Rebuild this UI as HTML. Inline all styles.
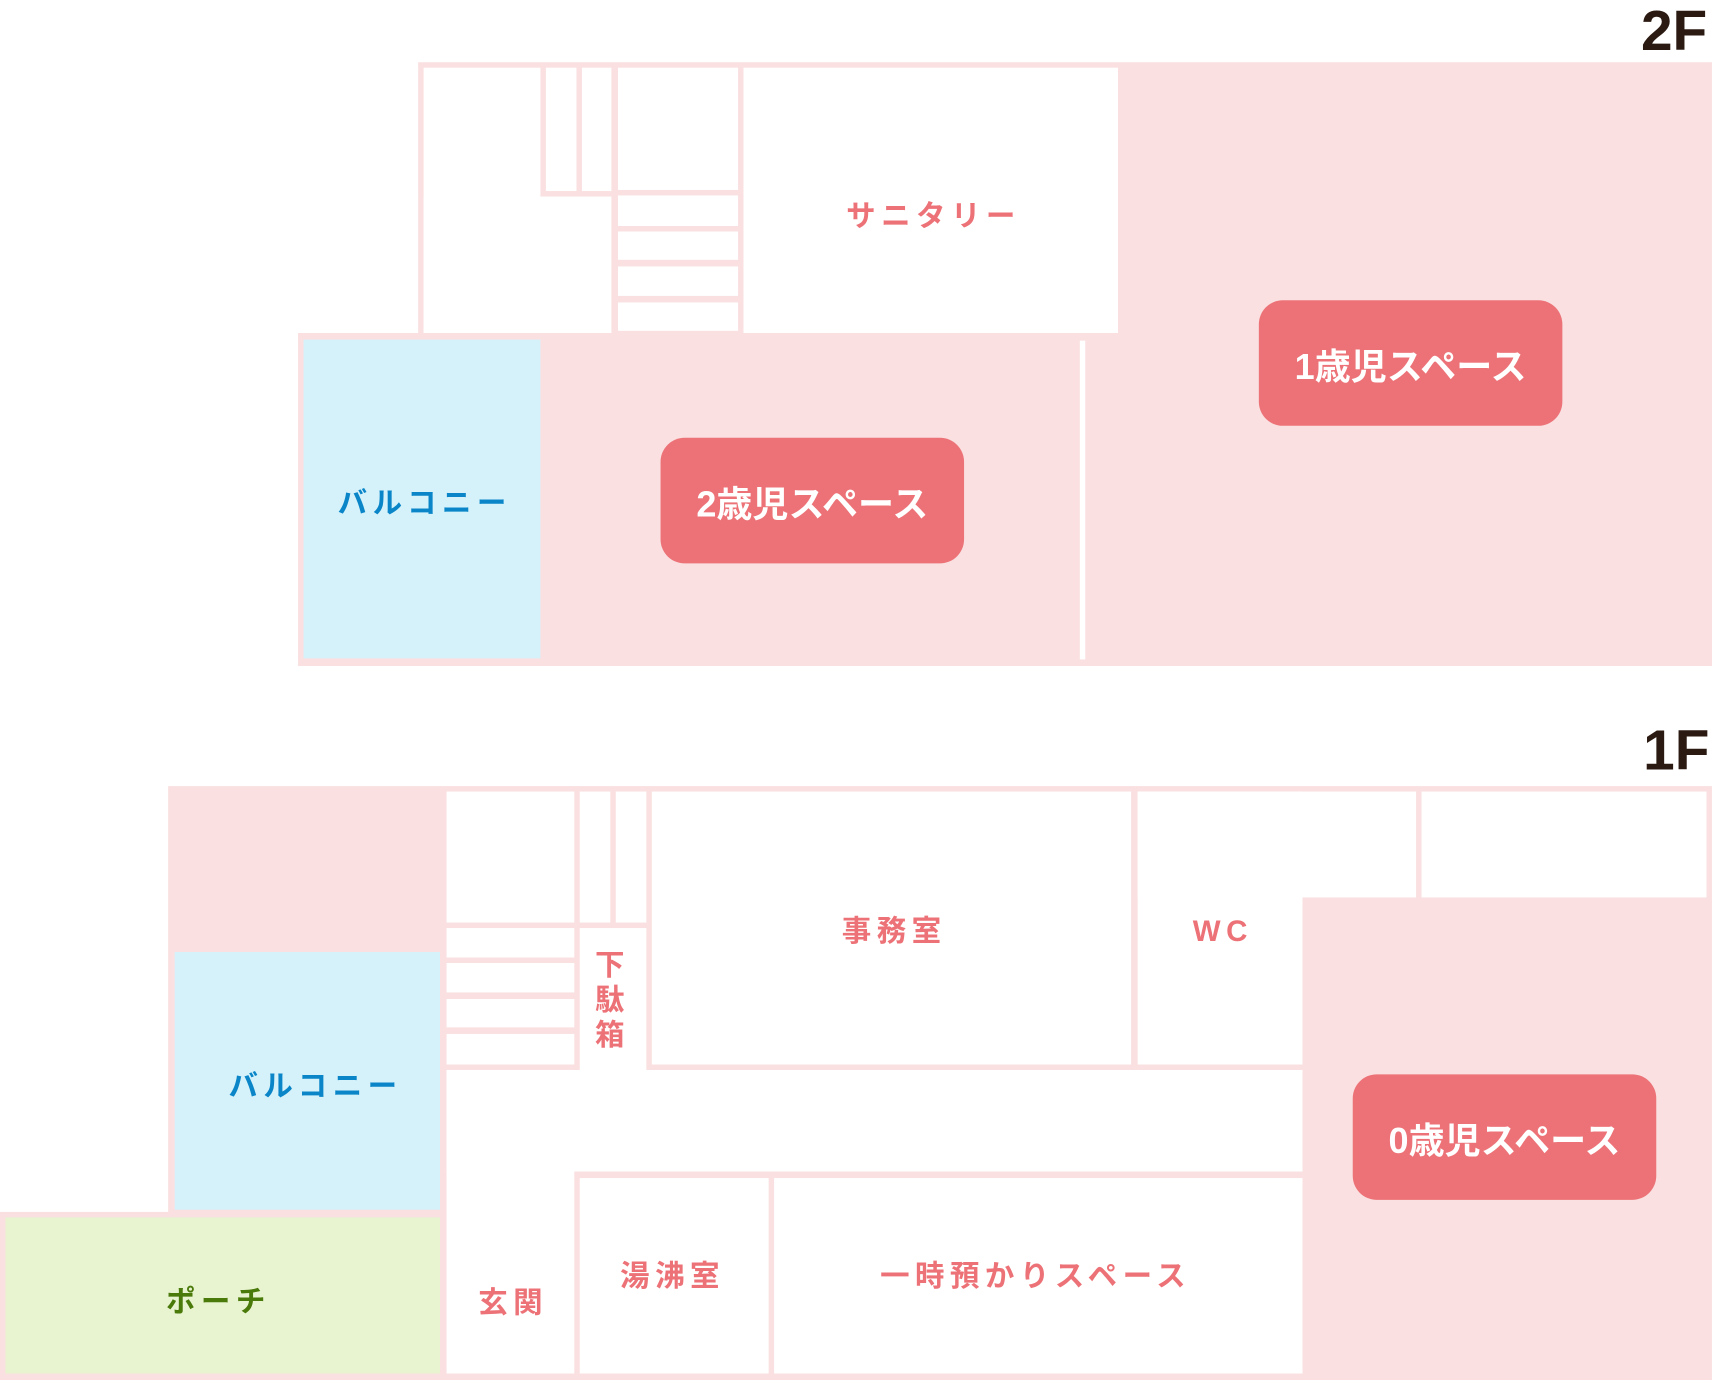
<!DOCTYPE html>
<html><head><meta charset="utf-8"><style>
body{margin:0;background:#fff;width:1712px;height:1380px;overflow:hidden}
#w{position:absolute;left:0;top:0;width:1568px;height:1264px;transform:scale(1.0918);transform-origin:0 0;font-family:"Liberation Sans","Noto Sans CJK JP",sans-serif}
#w div{position:absolute}
.p{background:#fae0e0}.r{background:#fff}
.b{background:#d5f2fb}.g{background:#e8f3d0}
.t{font-size:27px;font-weight:bold;color:#ec7277;letter-spacing:5px;text-indent:5px;white-space:nowrap;text-align:center;line-height:30px}
.btn{background:#ec7277;border-radius:22px;color:#fff;font-weight:bold;font-size:33px;display:flex;align-items:center;justify-content:center;letter-spacing:0px}
.fl{font-size:52px;font-weight:bold;color:#2b1a12;line-height:52px}
</style></head><body><div id="w">
<div class="fl" style="left:1503px;top:3px">2F</div>
<div class="fl" style="left:1505px;top:662px">1F</div>
<!-- 2F -->
<div class="p" style="left:383px;top:57px;width:1185px;height:553px"></div>
<div class="p" style="left:273px;top:305px;width:1295px;height:305px"></div>
<div class="r" style="left:388px;top:62px;width:107px;height:243px"></div>
<div class="r" style="left:388px;top:180px;width:172px;height:125px"></div>
<div class="r" style="left:500px;top:62px;width:28px;height:113px"></div>
<div class="r" style="left:533px;top:62px;width:27px;height:113px"></div>
<div class="r" style="left:566px;top:62px;width:110px;height:112px"></div>
<div class="r" style="left:566px;top:179px;width:110px;height:28px"></div>
<div class="r" style="left:566px;top:212px;width:110px;height:26px"></div>
<div class="r" style="left:566px;top:244px;width:110px;height:27px"></div>
<div class="r" style="left:566px;top:277px;width:110px;height:26px"></div>
<div class="r" style="left:681px;top:62px;width:343px;height:243px"></div>
<div class="t" style="left:681px;top:183px;width:343px">サニタリー</div>
<div class="b" style="left:278px;top:311px;width:217px;height:292px"></div>
<div class="t" style="left:278px;top:446px;width:217px;color:#0a86c8">バルコニー</div>
<div class="r" style="left:989px;top:312px;width:5px;height:292px"></div>
<div class="btn" style="left:605px;top:401px;width:278px;height:115px">2歳児スペース</div>
<div class="btn" style="left:1153px;top:275px;width:278px;height:115px">1歳児スペース</div>
<!-- 1F -->
<div class="p" style="left:154px;top:720px;width:1414px;height:544px"></div>
<div class="p" style="left:0;top:1110px;width:410px;height:154px"></div>
<div class="r" style="left:409px;top:725px;width:117px;height:120px"></div>
<div class="r" style="left:531px;top:725px;width:28px;height:120px"></div>
<div class="r" style="left:564px;top:725px;width:28px;height:120px"></div>
<div class="r" style="left:597px;top:725px;width:439px;height:250px"></div>
<div class="t" style="left:597px;top:838px;width:439px">事務室</div>
<div class="r" style="left:1042px;top:725px;width:151px;height:250px"></div>
<div class="r" style="left:1042px;top:725px;width:255px;height:97px"></div>
<div class="r" style="left:1302px;top:725px;width:261px;height:97px"></div>
<div class="t" style="left:1042px;top:838px;width:151px">WC</div>
<div class="r" style="left:409px;top:850px;width:117px;height:27px"></div>
<div class="r" style="left:409px;top:882px;width:117px;height:27px"></div>
<div class="r" style="left:409px;top:915px;width:117px;height:26px"></div>
<div class="r" style="left:409px;top:947px;width:117px;height:28px"></div>
<div class="r" style="left:531px;top:850px;width:61px;height:135px"></div>
<div class="t" style="left:528px;top:868px;width:61px;letter-spacing:0;text-indent:0;line-height:32px;white-space:normal">下<br>駄<br>箱</div>
<div class="r" style="left:409px;top:980px;width:784px;height:93px"></div>
<div class="r" style="left:409px;top:980px;width:117px;height:278px"></div>
<div class="t" style="left:409px;top:1178px;width:117px">玄関</div>
<div class="r" style="left:531px;top:1079px;width:173px;height:179px"></div>
<div class="t" style="left:531px;top:1154px;width:165px">湯沸室</div>
<div class="r" style="left:709px;top:1079px;width:484px;height:179px"></div>
<div class="t" style="left:709px;top:1154px;width:474px">一時預かりスペース</div>
<div class="b" style="left:160px;top:872px;width:243px;height:236px"></div>
<div class="t" style="left:165px;top:980px;width:243px;color:#0a86c8">バルコニー</div>
<div class="g" style="left:5px;top:1115px;width:398px;height:143px"></div>
<div class="t" style="left:5px;top:1177px;width:385px;color:#4a7a0a">ポーチ</div>
<div class="btn" style="left:1239px;top:984px;width:278px;height:115px">0歳児スペース</div>
</div></body></html>
